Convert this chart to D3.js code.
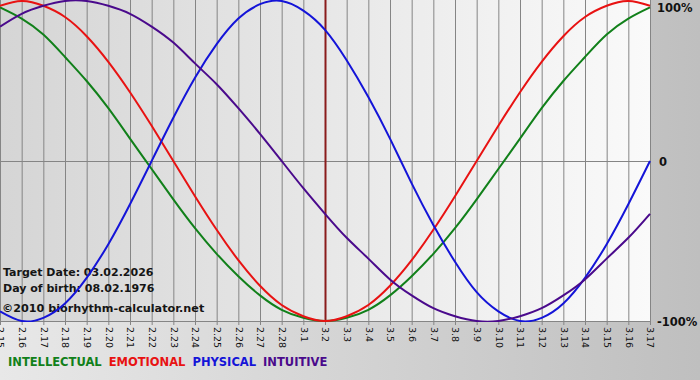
<!DOCTYPE html>
<html>
<head>
<meta charset="utf-8">
<script src="https://cdn.jsdelivr.net/npm/d3@7"></script>
<style>
  body { margin: 0; background: #d0d0d0; }
  svg { display: block; font-family: "DejaVu Sans", Verdana, sans-serif; }
</style>
</head>
<body>
<div id="chart"></div>
<script>
var DAYS = ['2.15','2.16','2.17','2.18','2.19','2.20','2.21','2.22','2.23','2.24','2.25','2.26','2.27','2.28',
    '3.1','3.2','3.3','3.4','3.5','3.6','3.7','3.8','3.9','3.10','3.11','3.12','3.13','3.14','3.15','3.16','3.17'];

// values in percent, one per day
var INTELLECTUAL = [96,89,79,65,50,33,14,-5,-24,-42,-58,-72,-84,-93,-98,-100,-98,-93,-84,-72,-58,-42,-24,-5,14,33,50,65,79,89,96];
var EMOTIONAL = [97,100,97,90,78,62,43,22,0,-22,-43,-62,-78,-90,-97,-100,-97,-90,-78,-62,-43,-22,0,22,43,62,78,90,97,100,97];
var PHYSICAL = [-94,-100,-98,-89,-73,-52,-27,0,27,52,73,89,98,100,94,82,63,40,14,-14,-40,-63,-82,-94,-100,-98,-89,-73,-52,-27,0];
var INTUITIVE = [84,92,97,100,100,97,92,84,74,61,48,33,17,0,-17,-33,-48,-61,-74,-84,-92,-97,-100,-100,-97,-92,-84,-74,-61,-48,-33];

var SERIES = [
    {name: 'INTELLECTUAL', values: INTELLECTUAL, color: '#11801a'},
    {name: 'EMOTIONAL', values: EMOTIONAL, color: '#e81212'},
    {name: 'PHYSICAL', values: PHYSICAL, color: '#1414d8'},
    {name: 'INTUITIVE', values: INTUITIVE, color: '#4a0a8c'}
];

var TARGET = '3.2';
var Y_LABELS = [100, 0, -100];
var INFO = ['Target Date: 03.02.2026', 'Day of birth: 08.02.1976'];
var COPYRIGHT = '\u00a92010 biorhythm-calculator.net';

var w = 700, h = 380,
    plotW = 650, plotTop = 1, plotBottom = 321;

var svg = d3.select('#chart').append('svg')
    .attr('width', w)
    .attr('height', h);

var defs = svg.append('defs');

var outerGrad = defs.append('linearGradient').attr('id', 'outerGrad');
outerGrad.append('stop').attr('offset', '0%').attr('stop-color', '#e8e8e8');
outerGrad.append('stop').attr('offset', '100%').attr('stop-color', '#bfbfbf');

var plotGrad = defs.append('linearGradient').attr('id', 'plotGrad');
plotGrad.append('stop').attr('offset', '0%').attr('stop-color', '#d5d5d5');
plotGrad.append('stop').attr('offset', '100%').attr('stop-color', '#fafafa');

defs.append('clipPath').attr('id', 'plotClip')
    .append('rect')
    .attr('x', 0).attr('y', 0)
    .attr('width', plotW + 1).attr('height', plotBottom + 1);

svg.append('rect')
    .attr('width', w).attr('height', h)
    .attr('fill', 'url(#outerGrad)');

svg.append('rect')
    .attr('x', 0).attr('y', 0)
    .attr('width', plotW).attr('height', plotBottom)
    .attr('fill', 'url(#plotGrad)');

var x = d3.scalePoint().domain(DAYS).range([0, plotW]);
var y = d3.scaleLinear().domain([-100, 100]).range([plotBottom, plotTop]);

// vertical grid
svg.append('g')
    .selectAll('line')
    .data(DAYS)
    .enter()
    .append('line')
    .attr('x1', function(d) { return x(d) + 0.5; })
    .attr('x2', function(d) { return x(d) + 0.5; })
    .attr('y1', 0)
    .attr('y2', plotBottom + 4)
    .attr('stroke', '#858585')
    .attr('stroke-width', 1);

// zero line and bottom line
svg.append('g')
    .selectAll('line')
    .data([0, -100])
    .enter()
    .append('line')
    .attr('x1', 0)
    .attr('x2', plotW)
    .attr('y1', function(d) { return Math.round(y(d)) + 0.5; })
    .attr('y2', function(d) { return Math.round(y(d)) + 0.5; })
    .attr('stroke', '#858585')
    .attr('stroke-width', 1);

// target date line
svg.append('line')
    .attr('x1', x(TARGET) + 0.5)
    .attr('x2', x(TARGET) + 0.5)
    .attr('y1', 0)
    .attr('y2', plotBottom)
    .attr('stroke', '#8a1c1c')
    .attr('stroke-width', 2);

// info text
svg.append('g')
    .selectAll('text')
    .data(INFO)
    .enter()
    .append('text')
    .attr('x', 3)
    .attr('y', function(d, i) { return 276 + i * 16; })
    .attr('font-size', 11)
    .attr('font-weight', 'bold')
    .attr('fill', '#151515')
    .text(function(d) { return d; });

svg.append('text')
    .attr('x', 2)
    .attr('y', 312)
    .attr('font-size', 11.2)
    .attr('font-weight', 'bold')
    .attr('fill', '#151515')
    .text(COPYRIGHT);

// curves
var line = d3.line()
    .x(function(d, i) { return x(DAYS[i]); })
    .y(function(d) { return y(d); })
    .curve(d3.curveNatural);

svg.append('g')
    .attr('clip-path', 'url(#plotClip)')
    .selectAll('path')
    .data(SERIES)
    .enter()
    .append('path')
    .attr('d', function(d) { return line(d.values); })
    .attr('fill', 'none')
    .attr('stroke', function(d) { return d.color; })
    .attr('stroke-width', 2);

// date labels
var xAxis = svg.append('g')
    .attr('transform', 'translate(0,' + (plotBottom + 4) + ')')
    .call(d3.axisBottom(x).tickSize(0).tickPadding(0));
xAxis.select('.domain').remove();
xAxis.selectAll('text')
    .attr('transform', 'rotate(90)')
    .attr('x', 2)
    .attr('y', 0)
    .attr('dy', '0.35em')
    .attr('dx', 0)
    .style('text-anchor', 'start')
    .attr('font-family', '"DejaVu Sans", Verdana, sans-serif')
    .attr('font-size', 9.5)
    .attr('fill', '#111');

// right labels
var yAxis = svg.append('g')
    .attr('transform', 'translate(' + (plotW + 7) + ',0)')
    .call(d3.axisRight(y).tickValues(Y_LABELS).tickSize(0).tickPadding(0)
        .tickFormat(function(d) { return d === 0 ? '0' : d + '%'; }));
yAxis.select('.domain').remove();
yAxis.selectAll('text')
    .attr('font-family', '"DejaVu Sans", Verdana, sans-serif')
    .attr('font-size', 11.5)
    .attr('font-weight', 'bold')
    .attr('fill', '#111')
    .attr('dy', function(d) { return d === 100 ? '0.9em' : '0.38em'; })
    .attr('x', function(d) { return d === 0 ? 2 : 0; });

// legend
var legend = svg.append('text')
    .attr('x', 8)
    .attr('y', 366)
    .attr('font-size', 11.5)
    .attr('font-weight', 'bold');
legend.selectAll('tspan')
    .data(SERIES)
    .enter()
    .append('tspan')
    .attr('dx', function(d, i) { return i ? 7 : 0; })
    .attr('fill', function(d) { return d.color; })
    .text(function(d) { return d.name; });
</script>
</body>
</html>
